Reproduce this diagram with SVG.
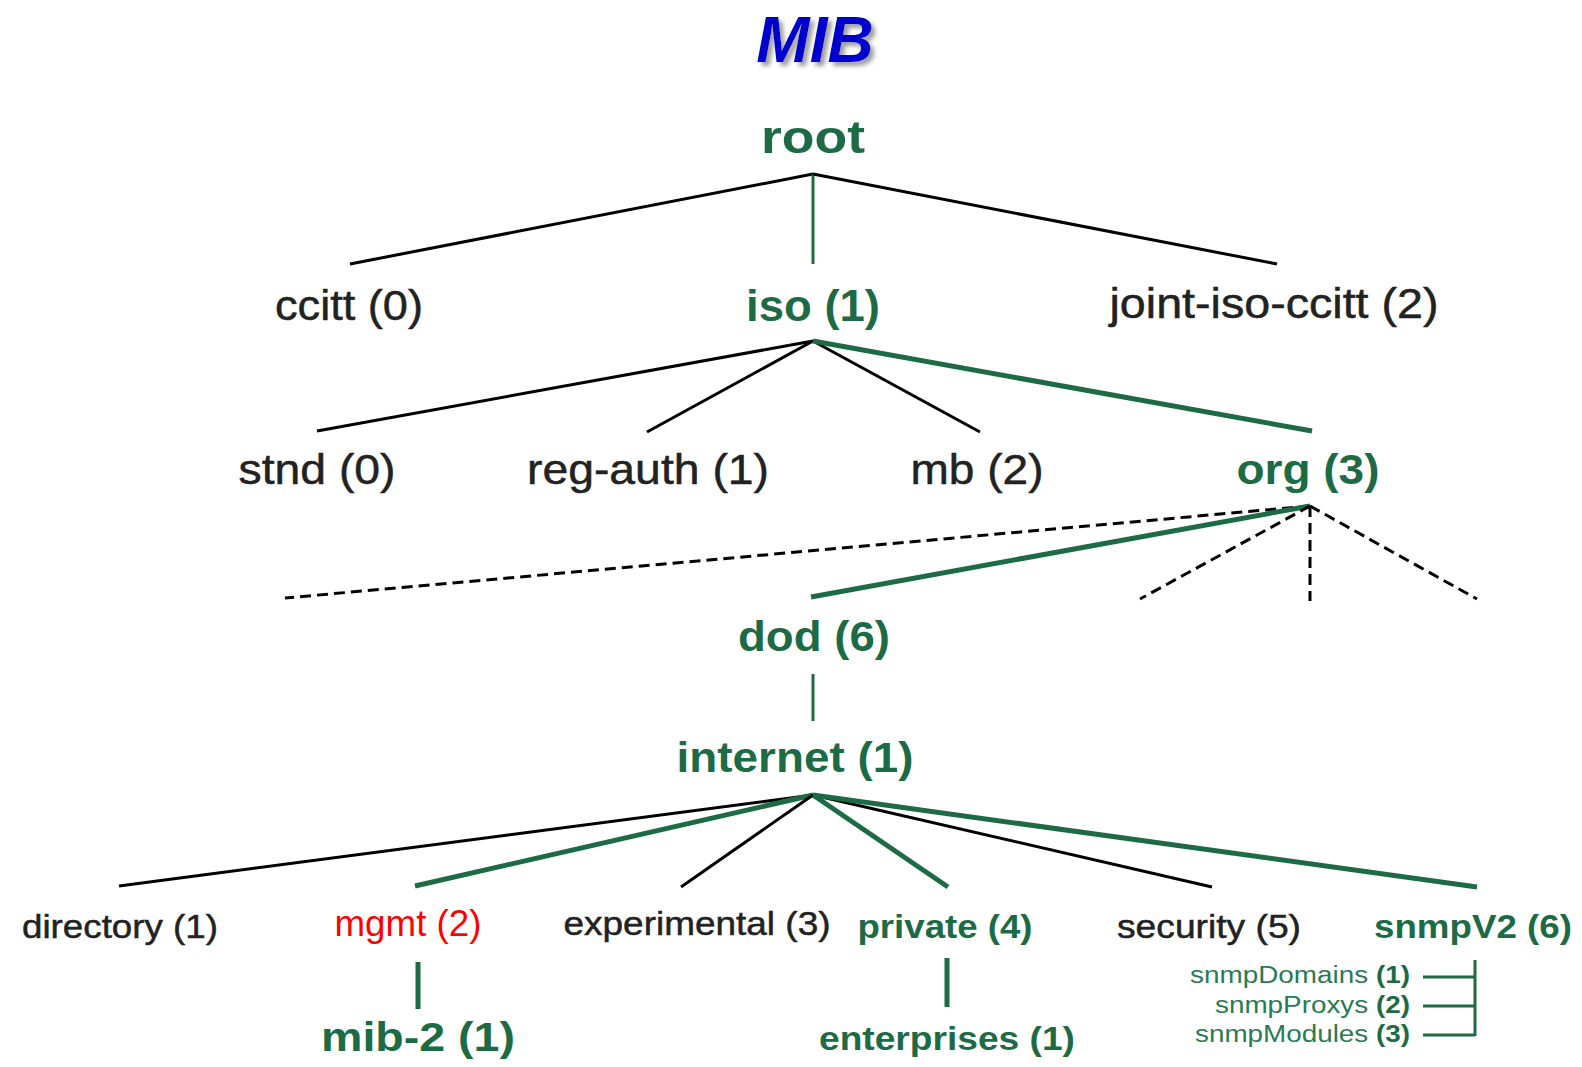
<svg xmlns="http://www.w3.org/2000/svg" width="1582" height="1067" viewBox="0 0 1582 1067">
  <defs>
    <style>
      .t { font-family: "Liberation Sans", Arial, sans-serif; text-anchor: middle; }
      .dk { fill: #222222; font-weight: normal; stroke: #222222; stroke-width: 0.5; }
      .gr { fill: #1D6B45; font-weight: bold; }
      .rd { fill: #FF0000; font-weight: normal; }
      .sm { font-family: "Liberation Sans", Arial, sans-serif; font-size: 23px; fill: #2A7A52; text-anchor: end; }
      .sm .b { font-weight: bold; fill: #1D6B45; }
      .blk { stroke: #000000; stroke-width: 3; fill: none; stroke-linecap: butt; }
      .grn { stroke: #1D6B45; stroke-width: 3; fill: none; }
      .grn-w { stroke: #1D6B45; stroke-width: 5; fill: none; }
      .dash { stroke: #000000; stroke-width: 3; fill: none; stroke-dasharray: 11 6; }
    </style>
    <filter id="shadow" x="-20%" y="-30%" width="140%" height="160%">
      <feGaussianBlur in="SourceAlpha" stdDeviation="2"/>
      <feOffset dx="4" dy="4" result="blur"/>
      <feFlood flood-color="#888888" flood-opacity="0.8"/>
      <feComposite in2="blur" operator="in" result="sh"/>
      <feMerge>
        <feMergeNode in="sh"/>
        <feMergeNode in="SourceGraphic"/>
      </feMerge>
    </filter>
  </defs>

  <rect width="1582" height="1067" fill="#ffffff"/>

  <!-- title -->
  <g id="title">
    <text x="815" y="62" font-family="Liberation Sans, Arial, sans-serif" font-size="64" font-weight="bold" font-style="italic" text-anchor="middle" fill="#0000CC" filter="url(#shadow)">MIB</text>
  </g>

  <!-- tree edges -->
  <g id="connectors">
    <!-- root -->
    <line class="blk" x1="813" y1="174" x2="350" y2="264"/>
    <line class="grn" x1="813" y1="174" x2="813" y2="264"/>
    <line class="blk" x1="813" y1="174" x2="1277" y2="264"/>
    <!-- iso -->
    <line class="blk" x1="813" y1="341" x2="317" y2="431"/>
    <line class="blk" x1="813" y1="341" x2="647" y2="432"/>
    <line class="blk" x1="813" y1="341" x2="980" y2="432"/>
    <line class="grn-w" x1="813" y1="341" x2="1312" y2="431" stroke-width="4"/>
    <!-- org -->
    <line class="dash" x1="1310" y1="506" x2="285" y2="598"/>
    <line class="grn-w" x1="1310" y1="506" x2="811" y2="597"/>
    <line class="dash" x1="1310" y1="506" x2="1140" y2="599"/>
    <line class="dash" x1="1310" y1="506" x2="1310" y2="601" stroke-width="2.5"/>
    <line class="dash" x1="1310" y1="506" x2="1477" y2="599"/>
    <!-- dod -->
    <line class="grn" x1="813" y1="674" x2="813" y2="721" stroke-width="4"/>
    <!-- internet -->
    <line class="blk" x1="813" y1="795" x2="119" y2="886"/>
    <line class="grn-w" x1="813" y1="795" x2="415" y2="886"/>
    <line class="blk" x1="813" y1="795" x2="681" y2="887"/>
    <line class="grn-w" x1="813" y1="795" x2="948" y2="887" stroke-width="4"/>
    <line class="blk" x1="813" y1="795" x2="1212" y2="887"/>
    <line class="grn-w" x1="813" y1="795" x2="1477" y2="887"/>
    <!-- mgmt / private -->
    <line class="grn-w" x1="418" y1="962" x2="418" y2="1009"/>
    <line class="grn-w" x1="947" y1="958" x2="947" y2="1007"/>
    <!-- snmpV2 bracket -->
    <path class="grn" d="M1475 960 V1036 M1423 977 H1475 M1423 1006 H1475 M1423 1035 H1475"/>
  </g>

  <!-- nodes -->
  <g id="n-root"><text class="t gr" x="813" y="153" font-size="46" textLength="104" lengthAdjust="spacingAndGlyphs">root</text></g>

  <g id="n-ccitt"><text class="t dk" x="349" y="320" font-size="43" textLength="148" lengthAdjust="spacingAndGlyphs">ccitt (0)</text></g>
  <g id="n-iso"><text class="t gr" x="813" y="321" font-size="44" textLength="134" lengthAdjust="spacingAndGlyphs">iso (1)</text></g>
  <g id="n-joint"><text class="t dk" x="1274" y="318" font-size="43" textLength="329" lengthAdjust="spacingAndGlyphs">joint-iso-ccitt (2)</text></g>

  <g id="n-stnd"><text class="t dk" x="317" y="484" font-size="43" textLength="157" lengthAdjust="spacingAndGlyphs">stnd (0)</text></g>
  <g id="n-regauth"><text class="t dk" x="648" y="484" font-size="43" textLength="242" lengthAdjust="spacingAndGlyphs">reg-auth (1)</text></g>
  <g id="n-mb"><text class="t dk" x="977" y="484" font-size="43" textLength="133" lengthAdjust="spacingAndGlyphs">mb (2)</text></g>
  <g id="n-org"><text class="t gr" x="1308" y="484" font-size="43" textLength="143" lengthAdjust="spacingAndGlyphs">org (3)</text></g>

  <g id="n-dod"><text class="t gr" x="814" y="651" font-size="43" textLength="152" lengthAdjust="spacingAndGlyphs">dod (6)</text></g>
  <g id="n-internet"><text class="t gr" x="795" y="772" font-size="43" textLength="237" lengthAdjust="spacingAndGlyphs">internet (1)</text></g>

  <g id="n-directory"><text class="t dk" x="120" y="938" font-size="34" textLength="196" lengthAdjust="spacingAndGlyphs">directory (1)</text></g>
  <g id="n-mgmt"><text class="t rd" x="408" y="936" font-size="36" textLength="147" lengthAdjust="spacingAndGlyphs">mgmt (2)</text></g>
  <g id="n-experimental"><text class="t dk" x="697" y="935" font-size="34" textLength="267" lengthAdjust="spacingAndGlyphs">experimental (3)</text></g>
  <g id="n-private"><text class="t gr" x="945" y="938" font-size="34" textLength="175" lengthAdjust="spacingAndGlyphs">private (4)</text></g>
  <g id="n-security"><text class="t dk" x="1209" y="938" font-size="34" textLength="184" lengthAdjust="spacingAndGlyphs">security (5)</text></g>
  <g id="n-snmpv2"><text class="t gr" x="1473" y="938" font-size="34" textLength="198" lengthAdjust="spacingAndGlyphs">snmpV2 (6)</text></g>

  <g id="n-mib2"><text class="t gr" x="418" y="1051" font-size="40" textLength="194" lengthAdjust="spacingAndGlyphs">mib-2 (1)</text></g>
  <g id="n-enterprises"><text class="t gr" x="947" y="1050" font-size="34" textLength="256" lengthAdjust="spacingAndGlyphs">enterprises (1)</text></g>

  <g id="n-snmpDomains"><text class="sm" x="1410" y="983" textLength="220" lengthAdjust="spacingAndGlyphs">snmpDomains <tspan class="b">(1)</tspan></text></g>
  <g id="n-snmpProxys"><text class="sm" x="1410" y="1013" textLength="195" lengthAdjust="spacingAndGlyphs">snmpProxys <tspan class="b">(2)</tspan></text></g>
  <g id="n-snmpModules"><text class="sm" x="1410" y="1042" textLength="215" lengthAdjust="spacingAndGlyphs">snmpModules <tspan class="b">(3)</tspan></text></g>
</svg>
